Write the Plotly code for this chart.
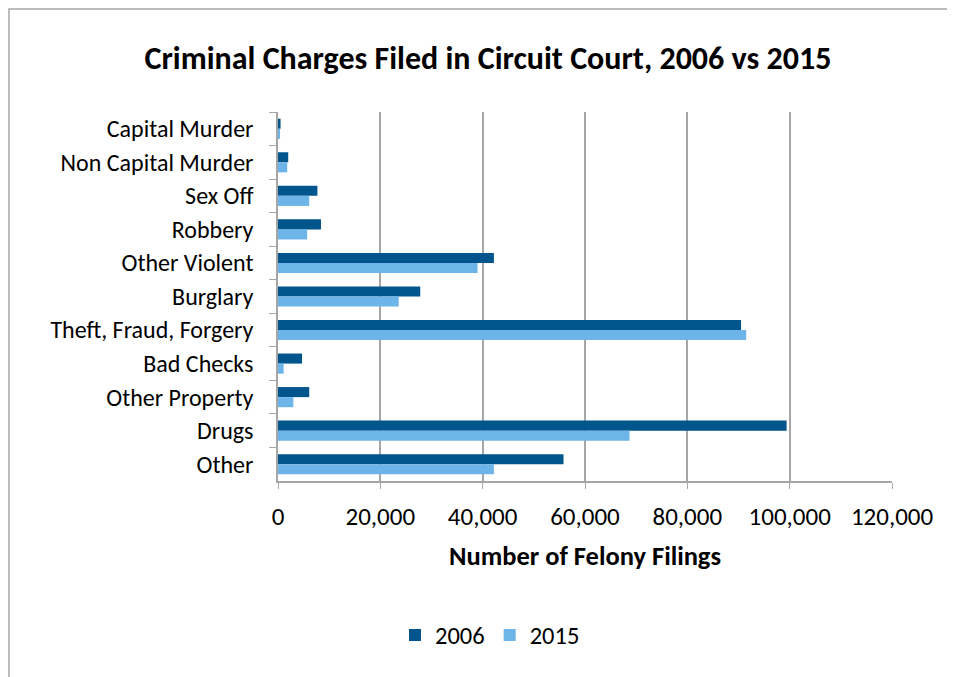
import plotly.graph_objects as go

categories = ["Capital Murder", "Non Capital Murder", "Sex Off", "Robbery", "Other Violent",
              "Burglary", "Theft, Fraud, Forgery", "Bad Checks", "Other Property", "Drugs", "Other"]
values_2006 = [500, 2000, 7700, 8400, 42200, 27800, 90500, 4700, 6100, 99400, 55800]
values_2015 = [400, 1800, 6100, 5700, 39000, 23600, 91500, 1100, 3000, 68700, 42200]
x_ticks = [0, 20000, 40000, 60000, 80000, 100000, 120000]
x_tick_labels = ["0", "20,000", "40,000", "60,000", "80,000", "100,000", "120,000"]

FONT = "Carlito, Lato, 'Open Sans', sans-serif"

fig = go.Figure()
fig.add_trace(go.Bar(y=categories, x=values_2006, orientation="h", name="2006",
                     marker=dict(color="#00558D", line=dict(width=0))))
fig.add_trace(go.Bar(y=categories, x=values_2015, orientation="h", name="2015",
                     marker=dict(color="#6DB4E9", line=dict(width=0))))

# page is offset by 8px (body margin); figure coords = page coords - 8
W, H = 955, 677
L, T = 270, 104
R = W - 884
B = H - 473
pw, ph = W - L - R, H - T - B

fig.update_layout(
    width=W, height=H,
    margin=dict(l=L, r=R, t=T, b=B),
    paper_bgcolor="white", plot_bgcolor="white",
    barmode="group", bargap=0.4, bargroupgap=0,
    font=dict(family=FONT, size=24, color="black"),
    title=dict(text="<b>Criminal Charges Filed in Circuit Court, 2006 vs 2015</b>",
               x=(488 - 8) / W, xref="container", xanchor="center",
               y=1 - 50 / H, yref="container", yanchor="middle",
               font=dict(size=32, family=FONT, color="black")),
    xaxis=dict(range=[0, 120000], tickvals=x_ticks, ticktext=x_tick_labels,
               showgrid=True, gridcolor="#A6A6A6", gridwidth=1.5,
               showline=True, linecolor="#A6A6A6", linewidth=1.5,
               ticks="outside", ticklen=6, tickcolor="#A6A6A6",
               zeroline=False, tickfont=dict(size=25), ticklabelstandoff=6,
               title=dict(text="<b>Number of Felony Filings</b>", font=dict(size=26.5), standoff=16)),
    yaxis=dict(autorange="reversed", showline=True, linecolor="#A6A6A6", linewidth=1.5,
               ticks="outside", ticklen=7, tickcolor="#A6A6A6", tickson="boundaries",
               showgrid=False, tickfont=dict(size=24), ticklabelstandoff=18),
    legend=dict(orientation="h", x=(490 - 8 - L) / pw, xanchor="center",
                y=1 - (627 - T) / ph, yanchor="middle",
                font=dict(size=24.5), traceorder="normal", itemwidth=30),
    shapes=[dict(type="rect", xref="paper", yref="paper",
                 x0=(1 - L) / pw, x1=(W + 20 - L) / pw,
                 y0=-(H + 20 - T - ph) / ph, y1=1 + (T - 1) / ph,
                 line=dict(color="#A6A6A6", width=1.5), fillcolor="rgba(0,0,0,0)", layer="below")],
)

fig.write_html("out.html")
